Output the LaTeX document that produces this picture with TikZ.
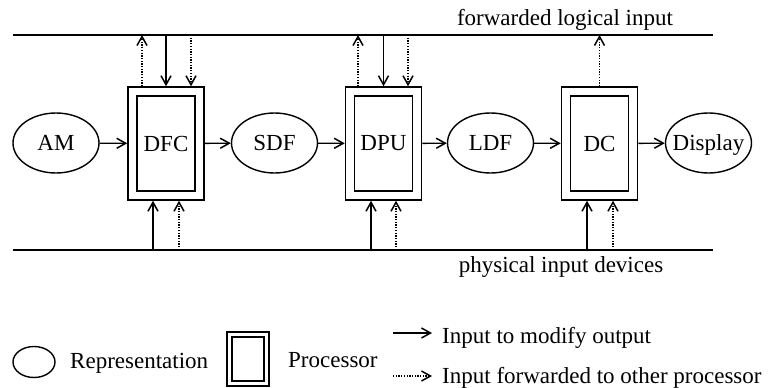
\documentclass[tikz,border=0pt]{standalone}
\usepackage{fontspec}
\setmainfont{Liberation Serif}
\usetikzlibrary{arrows.meta,calc,shapes.geometric}
\begin{document}
\begin{tikzpicture}[x=1pt,y=-1pt,
  lbl/.style={font=\fontsize{23}{26}\selectfont},
  rep/.style={draw, ellipse, line width=1.4pt, minimum width=86pt, minimum height=60pt, inner sep=0pt, text depth=0pt, lbl},
  proc/.style={draw, line width=1.5pt, minimum width=76pt, minimum height=113pt, inner sep=0pt, lbl,
    path picture={\draw[line width=1.8pt] ([shift={(#1,#1)}]path picture bounding box.south west) rectangle ([shift={(-#1,-#1)}]path picture bounding box.north east);}},
  mod/.style={line width=1.4pt, -{Straight Barb[length=9pt,width=10pt,line width=1.5pt]}},
  fwd/.style={mod, line width=1.6pt, dash pattern=on 1.3pt off 1.4pt},
  rule/.style={line width=1.5pt}]
\useasboundingbox (0,0) rectangle (772,388);
% lines
\coordinate (tl) at (13,35); \coordinate (tr) at (713,35);
\coordinate (bl) at (13,250); \coordinate (br) at (713,250);
\draw[rule] (tl) -- (tr);
\draw[rule] (bl) -- (br);
\node[lbl, anchor=base, inner sep=0pt] (fli) at (565,26) {forwarded logical input};
\node[lbl, anchor=base, inner sep=0pt] (pid) at (561,272) {physical input devices};
% nodes
\node[rep] (am) at (56,143) {AM};
\node[proc=9pt] (dfc) at (166,143.5) {DFC};
\node[rep] (sdf) at (274.5,143) {SDF};
\node[proc=9pt] (dpu) at (383.5,143.5) {DPU};
\node[rep] (ldf) at (490.5,143) {LDF};
\node[proc=9pt] (dc) at (599.5,143.5) {DC};
\node[rep] (disp) at (708.5,143) {\makebox[0pt]{Display}};
% horizontal flow
\draw[mod] (am) -- (dfc);
\draw[mod] (dfc) -- (sdf);
\draw[mod] (sdf) -- (dpu);
\draw[mod] (dpu) -- (ldf);
\draw[mod] (ldf) -- (dc);
\draw[mod] (dc) -- (disp);
% DFC verticals
\draw[fwd] ([xshift=-24pt]dfc.north) -- ([xshift=-24pt]dfc.north |- tl);
\draw[mod] (dfc.north |- tl) -- (dfc.north);
\draw[fwd] ([xshift=25pt]dfc.north |- tl) -- ([xshift=25pt]dfc.north);
\draw[mod] ([xshift=-13pt]dfc.south |- bl) -- ([xshift=-13pt]dfc.south);
\draw[fwd] ([xshift=13pt]dfc.south |- bl) -- ([xshift=13pt]dfc.south);
% DPU verticals
\draw[fwd] ([xshift=-25.5pt]dpu.north) -- ([xshift=-25.5pt]dpu.north |- tl);
\draw[mod] (dpu.north |- tl) -- (dpu.north);
\draw[fwd] ([xshift=24.5pt]dpu.north |- tl) -- ([xshift=24.5pt]dpu.north);
\draw[mod] ([xshift=-12.5pt]dpu.south |- bl) -- ([xshift=-12.5pt]dpu.south);
\draw[fwd] ([xshift=12.5pt]dpu.south |- bl) -- ([xshift=12.5pt]dpu.south);
% DC verticals
\draw[fwd] (dc.north) -- (dc.north |- tl);
\draw[mod] ([xshift=-12.5pt]dc.south |- bl) -- ([xshift=-12.5pt]dc.south);
\draw[fwd] ([xshift=13.5pt]dc.south |- bl) -- ([xshift=13.5pt]dc.south);
% legend
\node[draw, ellipse, line width=1.4pt, minimum width=42pt, minimum height=31pt, inner sep=0pt] (lrep) at (34,362) {};
\node[lbl, anchor=base west, inner sep=0pt] (lreptxt) at (70,368) {Representation};
\node[proc=5pt, minimum width=42pt, minimum height=54pt] (lproc) at (248,359) {};
\node[lbl, anchor=base west, inner sep=0pt] (lproctxt) at (288,367) {Processor};
\coordinate (lm1) at (393,333); \coordinate (lm2) at (432,333);
\draw[mod] (lm1) -- (lm2);
\node[lbl, anchor=base west, inner sep=0pt] (lmtxt) at (442,343) {Input to modify output};
\coordinate (lf1) at (393,376); \coordinate (lf2) at (432,376);
\draw[fwd] (lf1) -- (lf2);
\node[lbl, anchor=base west, inner sep=0pt] (lftxt) at (442,383) {Input forwarded to other processor};
\end{tikzpicture}
\end{document}
